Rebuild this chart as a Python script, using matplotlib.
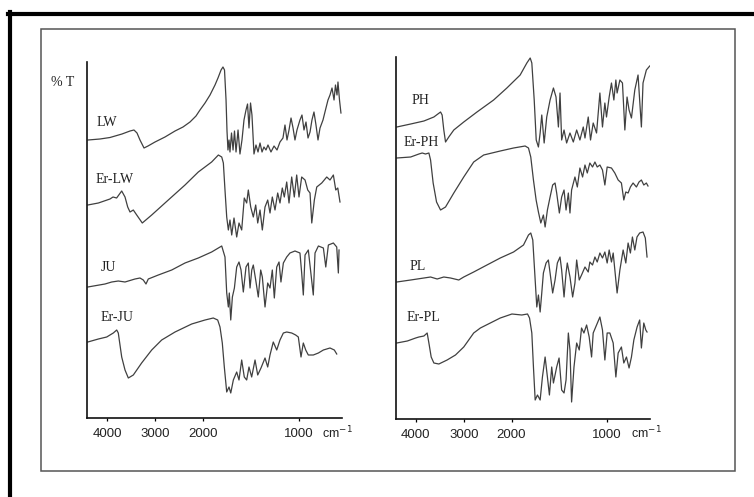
import numpy as np
import matplotlib
matplotlib.use("Agg")
import matplotlib.pyplot as plt
from matplotlib.patches import Rectangle
from matplotlib.lines import Line2D

W, H = 754, 497

# ---------------- data (wavenumber cm-1, transmittance in arbitrary offset units) -------------
lw_wn = [4396,4146,3938,3688,3521,3438,3375,3313,3229,3146,3000,2792,2583,2417,2271,2146,2063,1979,1927,1875,
         1844,1812,1792,1776,1760,1750,1740,1729,1719,1703,1687,1672,1656,1635,1615,1594,1573,1552,1536,1521,
         1505,1490,1469,1448,1427,1406,1385,1365,1344,1323,1292,1260,1229,1198,1167,1146,1125,1104,1083,1062,
         1042,1021,990,969,948,927,906,885,865,844,823,802,781,750,719,698,677,656,635,620,604,594,578,563]
lw_t = [278,279,280.5,284,287,288,285,278,270,272,276,281,287,291,296,302,308,315,323,333,
        340,348,351,348,318,287,268,278,266,285,268,287,266,288,264,278,298,308,314,290,
        315,303,264,273,266,275,266,271,268,273,266,272,268,276,280,293,278,288,300,290,
        278,288,298,303,288,296,280,286,298,306,293,278,290,298,310,318,323,330,318,333,323,336,318,305]

erlw_wn = [4400,4180,3938,3875,3800,3694,3625,3569,3521,3452,3381,3265,3069,2723,2375,2098,1910,1840,1805,1788,
           1771,1753,1736,1719,1701,1677,1649,1625,1597,1570,1545,1528,1503,1476,1451,1430,1406,1382,1354,1326,
           1302,1278,1250,1222,1198,1174,1153,1128,1104,1076,1049,1024,1000,972,937,909,885,867,840,815,
           763,711,677,642,617,596,573]
erlw_t = [213,215,219,221,220,227,221,211,206,208,203,195,203,218,233,246,256,263,261,255,
          228,201,188,198,183,200,181,195,188,220,215,228,211,201,213,195,208,188,211,218,
          205,221,208,225,215,230,221,236,215,241,221,243,221,241,238,228,225,195,218,231,
          235,241,238,243,228,230,216]

ju_wn = [4400,4042,3902,3765,3625,3417,3313,3244,3188,3140,2931,2652,2375,2098,1910,1805,1771,1753,1736,1726,
         1711,1694,1673,1649,1625,1604,1580,1552,1528,1510,1492,1476,1451,1424,1399,1382,1354,1326,1302,1278,
         1257,1232,1208,1188,1163,1128,1094,1042,990,972,955,937,903,851,833,798,746,721,694,642,607,590,583]
ju_t = [131,134,136,137,136,139,140,138,134,139,143,148,155,160,166,172,161,125,111,125,
        98,121,130,151,156,148,126,151,155,130,148,153,138,121,148,141,111,135,130,148,
        120,151,156,136,155,161,165,167,165,145,123,163,168,123,165,172,170,151,173,175,171,145,168]

erju_wn = [4400,4180,4006,3938,3869,3798,3765,3694,3625,3556,3452,3279,3069,2861,2583,2236,1979,1893,1847,1823,
           1799,1778,1753,1729,1711,1684,1649,1625,1597,1570,1545,1521,1493,1458,1430,1396,1354,1326,1302,1268,
           1232,1198,1163,1128,1076,1035,1007,979,955,930,903,851,798,746,677,632,607]
erju_t = [76,79,81,83,85,88,85,61,48,40,43,55,68,78,86,94,98,100,98,91,
          75,51,26,31,25,38,46,38,58,41,38,51,41,58,43,50,60,51,63,76,
          68,78,85,86,85,83,81,61,75,68,63,63,65,68,70,68,64]

ph_wn = [4400,4110,3833,3625,3485,3452,3417,3381,3313,3208,3000,2723,2375,2098,1910,1840,1805,1788,1763,1742,
         1719,1701,1684,1659,1632,1597,1562,1535,1510,1493,1476,1451,1424,1389,1354,1319,1285,1250,1232,1198,
         1174,1146,1111,1076,1049,1024,1007,979,955,930,909,896,867,840,815,792,771,746,711,677,642,625,590,555]
ph_t = [292,295,298,302,307,304,289,277,282,289,297,307,319,331,344,356,361,356,319,279,
        272,286,304,276,302,319,331,322,292,326,279,289,276,286,277,289,279,292,281,302,
        279,296,286,326,292,316,302,322,336,319,339,326,339,336,289,322,309,301,329,344,292,336,349,353]

erph_wn = [4400,4110,3938,3869,3800,3729,3694,3640,3569,3485,3381,3208,3000,2792,2583,2236,1979,1858,1823,1799,
           1771,1743,1719,1694,1667,1649,1625,1597,1570,1545,1528,1500,1476,1451,1430,1406,1389,1372,1337,1312,
           1285,1257,1232,1208,1181,1153,1128,1104,1076,1049,1024,1000,955,920,885,851,826,805,781,757,
           729,694,667,642,617,590,573]
erph_t = [261,262,265,266,265,266,259,236,217,209,212,226,242,257,264,268,271,273,271,262,
          239,219,207,196,204,192,209,222,234,236,226,206,222,229,209,226,206,229,242,232,
          251,242,254,246,256,252,257,252,254,249,234,252,251,246,239,236,219,227,226,232,
          236,232,237,239,234,236,233]

pl_wn = [4400,4110,3833,3694,3556,3417,3277,3104,3000,2792,2515,2236,1979,1875,1823,1799,1778,1753,1736,1719,
         1701,1684,1667,1639,1615,1597,1570,1545,1521,1493,1476,1451,1430,1417,1389,1361,1337,1319,1292,1268,
         1232,1198,1181,1153,1128,1104,1076,1049,1024,1000,979,955,937,896,867,833,805,781,757,736,
         711,688,660,625,601,583]
pl_t = [137,139,141,142,140,142,141,139,142,147,154,161,167,174,184,186,179,139,112,124,
        107,126,146,156,159,146,126,139,156,162,149,122,146,156,142,122,136,159,139,144,
        152,147,157,154,162,157,166,161,167,156,169,157,166,126,149,169,156,176,166,182,
        169,182,186,187,181,162]

erpl_wn = [4400,4180,4006,3938,3833,3765,3729,3681,3625,3521,3348,3173,3000,2792,2652,2444,2236,1996,1893,1833,
           1812,1788,1771,1753,1729,1701,1677,1649,1625,1604,1580,1562,1528,1503,1476,1451,1430,1406,1389,1372,
           1347,1319,1292,1268,1243,1215,1188,1163,1146,1111,1076,1049,1024,1000,972,937,909,885,851,826,
           798,771,746,721,687,660,642,617,596,583]
erpl_t = [76,78,81,82,83,86,76,62,56,55,59,64,72,86,91,96,101,105,104,105,
          101,86,52,19,24,19,42,62,42,24,52,36,52,61,29,26,39,86,69,17,
          52,76,69,91,86,94,82,62,86,94,102,89,59,86,86,76,42,66,72,56,
          62,51,62,79,92,99,71,96,89,87]

left_names = ["LW", "Er-LW", "JU", "Er-JU"]
right_names = ["PH", "Er-PH", "PL", "Er-PL"]
left_series = [(lw_wn, lw_t), (erlw_wn, erlw_t), (ju_wn, ju_t), (erju_wn, erju_t)]
right_series = [(ph_wn, ph_t), (erph_wn, erph_t), (pl_wn, pl_t), (erpl_wn, erpl_t)]
tick_values = [4000, 3000, 2000, 1000]
tick_labels = ["4000", "3000", "2000", "1000"]
unit_label = "cm$^{-1}$"
y_label = "% T"


def fwd(w):
    w = np.asarray(w, float)
    return np.where(w >= 2000, w, 2 * w - 2000)


def inv(u):
    u = np.asarray(u, float)
    return np.where(u >= 2000, u, (u + 2000) / 2)


def px(x, y):
    return x / W, 1 - y / H


fig = plt.figure(figsize=(W / 100, H / 100), dpi=100)
fig.patch.set_facecolor("white")

# outer black frame (top and left visible) and inner grey box
fig.add_artist(Line2D([8 / W, 1.0], [1 - 13.5 / H, 1 - 13.5 / H], color="black", lw=3.0,
                      transform=fig.transFigure))
fig.add_artist(Line2D([10 / W, 10 / W], [0, 1 - 12 / H], color="black", lw=3.0,
                      transform=fig.transFigure))
fig.add_artist(Rectangle(px(41, 471), (735 - 41) / W, (471 - 29) / H, fill=False,
                         edgecolor="#555555", lw=1.1, transform=fig.transFigure))

serif = ["Liberation Serif", "DejaVu Serif"]
sans = ["Liberation Sans", "DejaVu Sans"]


def make_axes(x0, x1, ytop, ybot, series):
    ax = fig.add_axes([x0 / W, 1 - ybot / H, (x1 - x0) / W, (ybot - ytop) / H])
    ax.set_xscale("function", functions=(fwd, inv))
    ax.set_facecolor("none")
    for wn, t in series:
        ax.plot(wn, t, color="#404040", lw=0.9)
    ax.set_xlim(4417, 552)
    ax.set_ylim(0, ybot - ytop)
    for s in ("top", "right"):
        ax.spines[s].set_visible(False)
    for s in ("left", "bottom"):
        ax.spines[s].set_linewidth(1.2)
        ax.spines[s].set_color("#111111")
    ax.set_yticks([])
    ax.set_xticks(tick_values)
    ax.set_xticklabels(tick_labels, fontfamily=sans, fontsize=9.5, color="#222222")
    ax.xaxis.set_minor_locator(matplotlib.ticker.NullLocator())
    ax.tick_params(axis="x", direction="out", length=2.5, width=0.9, pad=5)
    return ax


axL = make_axes(87, 342, 62, 418, left_series)
axR = make_axes(396, 650, 57, 419, right_series)

# unit labels
fig.text(*px(337, 433), unit_label, fontfamily=sans, fontsize=9, ha="center", va="center", color="#222222")
fig.text(*px(646, 433), unit_label, fontfamily=sans, fontsize=9, ha="center", va="center", color="#222222")

# % T label
fig.text(*px(62.5, 83), y_label, fontfamily=serif, fontsize=10, ha="center", va="center", color="#222222")

# spectrum labels
left_pos = [(107, 122), (115, 180), (108.5, 267.5), (117, 317.5)]
right_pos = [(420, 100), (421, 142), (418, 267), (423.5, 317.5)]
for name, (x, y) in zip(left_names + right_names, left_pos + right_pos):
    fig.text(*px(x, y), name, fontfamily=serif, fontsize=10, ha="center", va="center", color="#222222")

fig.savefig("out.png", dpi=100, facecolor="white")
